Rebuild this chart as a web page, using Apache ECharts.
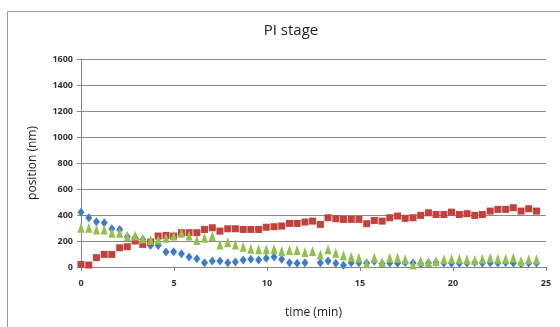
<!DOCTYPE html>
<html>
<head>
<meta charset="utf-8">
<script src="https://cdn.jsdelivr.net/npm/echarts@6/dist/echarts.min.js"></script>
<style>
    html, body { margin: 0; padding: 0; background: #fff; }
    #chart { width: 560px; height: 327px; }
</style>
</head>
<body>
<div id="chart"></div>
<script>
// 采样时间 (min)
var times = [0, 0.42, 0.83, 1.25, 1.66, 2.08, 2.49, 2.91, 3.32, 3.74,
    4.15, 4.57, 4.98, 5.40, 5.81, 6.23, 6.64, 7.06, 7.47, 7.89,
    8.30, 8.72, 9.13, 9.55, 9.96, 10.38, 10.79, 11.21, 11.62, 12.04,
    12.45, 12.87, 13.28, 13.70, 14.11, 14.53, 14.94, 15.36, 15.77, 16.19,
    16.60, 17.02, 17.43, 17.85, 18.26, 18.68, 19.09, 19.51, 19.92, 20.34,
    20.75, 21.17, 21.58, 22.00, 22.41, 22.83, 23.24, 23.66, 24.07, 24.49];

var blueVals = [422, 379, 348, 340, 294, 289, 233, 225, 212, 166,
    166, 115, 118, 102, 77, 64, 33, 46, 46, 33,
    38, 54, 59, 54, 68, 77, 59, 33, 28, 33,
    -10, 33, 46, 28, 13, 33, 33, 30, 45, 25,
    30, 28, 35, 30, 25, 30, 35, 30, 28, 28,
    30, 35, 30, 32, 30, 35, 30, 25, 30, 30];

var redVals = [20, 15, 72, 97, 97, 148, 156, 200, 174, 192,
    238, 243, 238, 264, 264, 264, 289, 302, 276, 294,
    294, 289, 289, 289, 306, 310, 315, 335, 335, 346,
    353, 328, 379, 371, 366, 366, 366, 333, 358, 353,
    379, 392, 374, 379, 397, 417, 404, 404, 422, 404,
    410, 397, 404, 430, 443, 443, 456, 430, 448, 430];

var greenVals = [302, 302, 289, 289, 264, 264, 238, 243, 220, 207,
    212, 225, 243, 264, 243, 207, 225, 238, 174, 192,
    174, 156, 141, 136, 136, 141, 123, 131, 131, 115,
    123, 97, 136, 110, 90, 79, 72, 28, 72, 38,
    72, 72, 59, 20, 46, 38, 46, 59, 64, 64,
    59, 54, 64, 72, 64, 64, 72, 46, 59, 59];

var xTicks = [0, 5, 10, 15, 20, 25];
var yTicks = [0, 200, 400, 600, 800, 1000, 1200, 1400, 1600];

var pairs = function(vals) {
    var out = [];
    for (var i = 0; i < vals.length; i++) {
        out.push([times[i], vals[i]]);
    }
    return out;
};

var chart = echarts.init(document.getElementById('chart'));
var fontFam = '"Open Sans", "Liberation Sans", sans-serif';

chart.setOption({
    animation: false,
    title: {
        text: 'PI stage',
        left: 286,
        top: 18,
        textAlign: 'center',
        textStyle: {
            fontFamily: fontFam,
            fontWeight: 'normal',
            fontSize: 15,
            color: '#222'
        }
    },
    graphic: [{
        type: 'rect',
        shape: { x: 7.5, y: 11.5, width: 600, height: 400 },
        style: { fill: 'none', stroke: '#999', lineWidth: 1 },
        silent: true
    }],
    grid: {
        left: 81,
        right: 14,
        top: 59,
        bottom: 60
    },
    xAxis: {
        type: 'value',
        min: 0,
        max: 25,
        interval: 5,
        name: 'time (min)',
        nameLocation: 'middle',
        nameGap: 40,
        nameTextStyle: { fontFamily: fontFam, fontSize: 12, color: '#222' },
        axisLine: { onZero: false, lineStyle: { color: '#888' } },
        axisTick: { show: true, length: 4, lineStyle: { color: '#888' } },
        axisLabel: {
            fontFamily: fontFam,
            fontSize: 9,
            fontWeight: 'bold',
            color: '#333',
            margin: 12,
            formatter: function(v) { return xTicks.indexOf(v) >= 0 ? String(v) : ''; }
        },
        splitLine: { show: false }
    },
    yAxis: {
        type: 'value',
        min: 0,
        max: 1600,
        interval: 200,
        name: 'position (nm)',
        nameLocation: 'middle',
        nameGap: 42,
        nameTextStyle: { fontFamily: fontFam, fontSize: 12, color: '#222' },
        axisLine: { show: true, lineStyle: { color: '#888' } },
        axisTick: { show: true, length: 4, lineStyle: { color: '#888' } },
        axisLabel: {
            fontFamily: fontFam,
            fontSize: 9,
            fontWeight: 'bold',
            color: '#333',
            margin: 8,
            formatter: function(v) { return yTicks.indexOf(v) >= 0 ? String(v) : ''; }
        },
        splitLine: { show: true, lineStyle: { color: '#8a8a8a', width: 1 } }
    },
    series: [{
        name: 'green',
        type: 'scatter',
        symbol: 'triangle',
        symbolSize: [7, 10],
        itemStyle: { color: '#93BF4E', opacity: 1 },
        data: pairs(greenVals),
        z: 3
    }, {
        name: 'red',
        type: 'scatter',
        symbol: 'rect',
        symbolSize: [7, 7],
        itemStyle: { color: '#C4403D', opacity: 1 },
        data: pairs(redVals),
        z: 2
    }, {
        name: 'blue',
        type: 'scatter',
        symbol: 'diamond',
        symbolSize: [7, 9],
        itemStyle: { color: '#3D7CC9', opacity: 1 },
        data: pairs(blueVals),
        z: 1
    }]
});
</script>
</body>
</html>
